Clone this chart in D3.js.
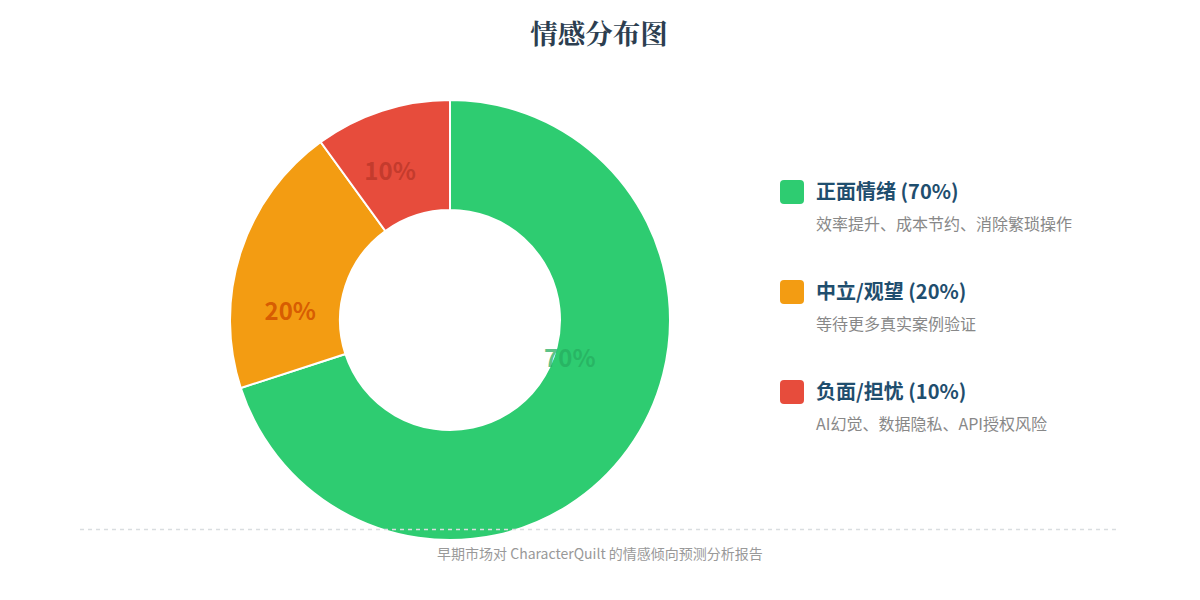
<!DOCTYPE html>
<html><head><meta charset="utf-8">
<script src="https://cdn.jsdelivr.net/npm/d3@7"></script>
<style>
html,body{margin:0;padding:0;background:#fff;}
svg{display:block;}
</style></head>
<body>
<svg id="chart" width="1200" height="600"></svg>
<script>
const title = "情感分布图";
const categories = ["正面情绪", "中立/观望", "负面/担忧"];
const values = [70, 20, 10];
const descriptions = ["效率提升、成本节约、消除繁琐操作", "等待更多真实案例验证", "AI幻觉、数据隐私、API授权风险"];
const colors = ["#2ecc71", "#f39c12", "#e74c3c"];
const labelColors = ["#27ae60", "#d35400", "#c0392b"];
const footer = "早期市场对 CharacterQuilt 的情感倾向预测分析报告";

const svg = d3.select("#chart");
const FONT = "'Noto Sans CJK SC','Noto Sans',sans-serif";

svg.append("text").attr("x", 599).attr("y", 44).attr("text-anchor", "middle")
  .attr("font-family", "'Noto Serif CJK SC',serif,'Noto Sans CJK SC'").attr("font-weight", 700)
  .attr("font-size", 27.5).attr("fill", "#2c3e50").text(title);

const cx = 450, cy = 320, R = 220, r = 110;
const g = svg.append("g").attr("transform", `translate(${cx},${cy})`);
const pie = d3.pie().sort(null).value(d => d)(values);
const arc = d3.arc().innerRadius(r).outerRadius(R);
g.selectAll("path.slice").data(pie).join("path").attr("class", "slice")
  .attr("d", arc).attr("fill", (d, i) => colors[i]).attr("stroke", "#fff").attr("stroke-width", 2);

// label placement (layout tweaks)
const angleAdj = [-18, -15, -4];
const radAdj = [126, 160, 160];
g.selectAll("text.lbl").data(pie).join("text").attr("class", "lbl")
  .attr("transform", (d, i) => {
    const a = (d.startAngle + d.endAngle) / 2 + angleAdj[i] * Math.PI / 180;
    return `translate(${radAdj[i] * Math.sin(a)},${-radAdj[i] * Math.cos(a)})`;
  })
  .attr("text-anchor", "middle").attr("dy", "0.35em")
  .attr("font-family", FONT).attr("font-weight", 700).attr("font-size", 24)
  .attr("fill", (d, i) => labelColors[i]).attr("fill-opacity", (d, i) => i === 0 ? 0.75 : 0.9)
  .text(d => d.data + "%");

// legend
const y = d3.scalePoint().domain(categories).range([192, 392]);
const lg = svg.append("g");
categories.forEach((c, i) => {
  const yy = y(c);
  lg.append("rect").attr("x", 780).attr("y", yy - 12).attr("width", 24).attr("height", 24)
    .attr("rx", 4).attr("fill", colors[i]);
  lg.append("text").attr("x", 816).attr("y", yy).attr("dy", "0.35em")
    .attr("font-family", FONT).attr("font-weight", 700).attr("font-size", 20)
    .attr("fill", "#1f4e6e").text(`${c} (${values[i]}%)`);
  lg.append("text").attr("x", 816).attr("y", yy + 32).attr("dy", "0.35em")
    .attr("font-family", FONT).attr("font-size", 16)
    .attr("fill", "#888").text(descriptions[i]);
});

// footer
svg.append("line").attr("x1", 80).attr("x2", 1116).attr("y1", 529.5).attr("y2", 529.5)
  .attr("stroke", "#d9dde0").attr("stroke-width", 1.5).attr("stroke-dasharray", "4,4");
svg.append("text").attr("x", 600).attr("y", 554).attr("dy", "0.35em").attr("text-anchor", "middle")
  .attr("font-family", FONT).attr("font-size", 14).attr("fill", "#999").text(footer);
</script>
</body></html>
